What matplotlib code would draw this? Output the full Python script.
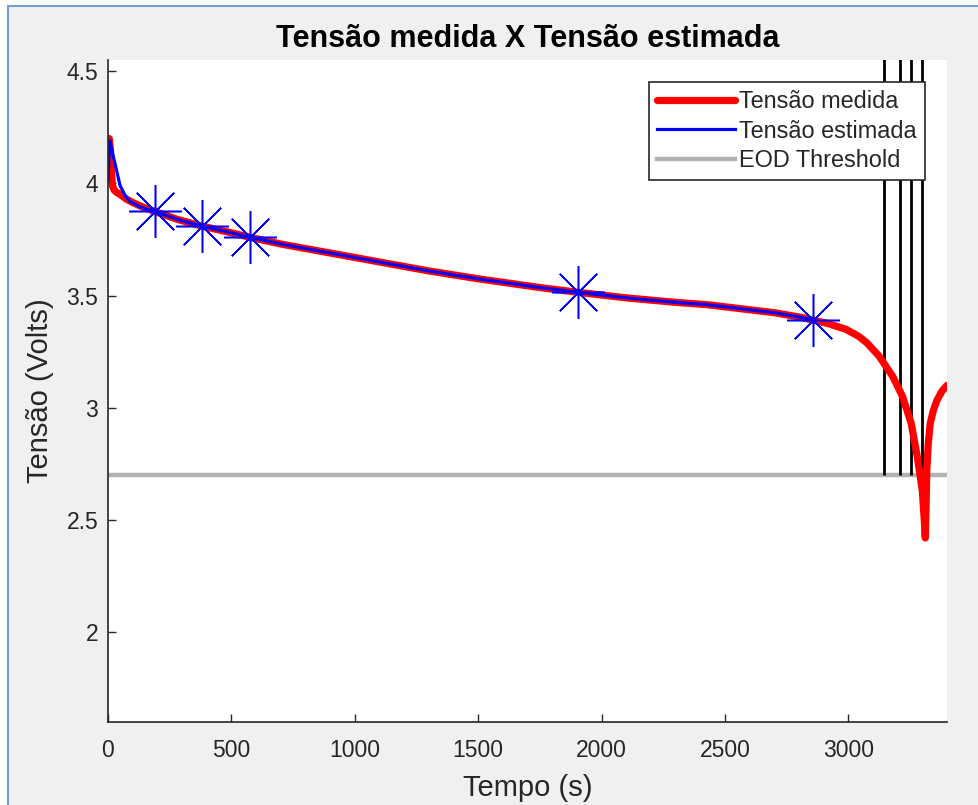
import matplotlib
matplotlib.use('Agg')
import matplotlib.pyplot as plt
from matplotlib.patches import Rectangle

# measured voltage (red)
t_medida = [0, 5, 10, 14, 18, 25, 35, 50, 75, 100, 140, 190, 280, 380, 480, 575,
            700, 850, 1000, 1150, 1300, 1500, 1750, 1903, 2100, 2300, 2425, 2600,
            2700, 2800, 2860, 2920, 2990, 3040, 3075, 3125, 3180, 3220, 3255, 3280,
            3300, 3308, 3312, 3315, 3318, 3324, 3332, 3345, 3360, 3380, 3400]
v_medida = [4.18, 4.20, 4.15, 4.05, 3.99, 3.97, 3.96, 3.95, 3.93, 3.915, 3.895, 3.875,
            3.84, 3.81, 3.785, 3.76, 3.73, 3.70, 3.67, 3.64, 3.61, 3.575, 3.536, 3.515,
            3.49, 3.47, 3.46, 3.437, 3.424, 3.405, 3.39, 3.375, 3.35, 3.32, 3.29, 3.23,
            3.14, 3.05, 2.93, 2.78, 2.63, 2.50, 2.42, 2.55, 2.72, 2.84, 2.93, 2.99,
            3.035, 3.075, 3.10]

# estimated voltage (blue)
t_estimada = [0, 4, 8, 15, 28, 49, 70, 89, 130, 190, 280, 380, 480, 575, 700, 850,
              1000, 1150, 1300, 1500, 1750, 1903, 2100, 2300, 2425, 2600, 2700, 2800, 2860]
v_estimada = [4.01, 4.12, 4.19, 4.15, 4.09, 3.99, 3.945, 3.92, 3.895, 3.875, 3.84, 3.81,
              3.785, 3.76, 3.73, 3.70, 3.67, 3.64, 3.61, 3.575, 3.536, 3.515, 3.49, 3.47,
              3.46, 3.437, 3.424, 3.405, 3.39]

# asterisk markers
t_ast = [190, 380, 575, 1903, 2858]
v_ast = [3.875, 3.81, 3.76, 3.515, 3.39]

# EOD crossings (black vertical lines)
t_eod = [3146, 3211, 3255, 3300]
eod_threshold = 2.7

fg = '#262626'
plt.rcParams['font.family'] = ['Liberation Sans', 'DejaVu Sans']

fig = plt.figure(figsize=(9.79, 8.05), dpi=100, facecolor='white')
fig.patches.append(Rectangle((8 / 979, -0.01), 1.0, 1 - 6 / 805 + 0.01,
                             transform=fig.transFigure, facecolor='#f0f0f0',
                             edgecolor='#6f9fd8', linewidth=1.5, zorder=-10))

ax = fig.add_axes([108 / 979, 1 - 722 / 805, (947 - 108) / 979, (722 - 60) / 805])
ax.set_facecolor('white')

h_eod, = ax.plot([0, 3400], [eod_threshold, eod_threshold], color='#b3b3b3', lw=3.2)
ax.vlines(t_eod, eod_threshold, 4.8, color='black', lw=2)
h_med, = ax.plot(t_medida, v_medida, color='red', lw=5.2, solid_capstyle='round')
h_est, = ax.plot(t_estimada, v_estimada, color='blue', lw=2.3)
ax.plot(t_ast, v_ast, linestyle='none', marker=(8, 2, 0), markersize=38,
        markeredgecolor='blue', markeredgewidth=1.1)

ax.set_xlim(0, 3400)
ax.set_ylim(1.6, 4.55)
ax.set_xticks([0, 500, 1000, 1500, 2000, 2500, 3000])
ax.set_yticks([2, 2.5, 3, 3.5, 4, 4.5])
ax.set_yticklabels(['2', '2.5', '3', '3.5', '4', '4.5'])

for s in ['top', 'right']:
    ax.spines[s].set_visible(False)
for s in ['left', 'bottom']:
    ax.spines[s].set_color(fg)
    ax.spines[s].set_linewidth(1.2)
ax.tick_params(direction='in', length=6, width=1, colors=fg, labelsize=16.5)
ax.tick_params(axis='y', pad=7)
ax.tick_params(axis='x', pad=12)

ax.set_title('Tensão medida X Tensão estimada', fontsize=22, fontweight='bold', pad=9)
ax.set_xlabel('Tempo (s)', fontsize=21, color=fg, labelpad=9)
ax.set_ylabel('Tensão (Volts)', fontsize=21, color=fg, labelpad=9)

leg = ax.legend([h_med, h_est, h_eod], ['Tensão medida', 'Tensão estimada', 'EOD Threshold'],
                loc='upper right', bbox_to_anchor=(0.974, 0.967), borderaxespad=0,
                fontsize=16.9, fancybox=False, framealpha=1, edgecolor=fg,
                handlelength=3.3, handletextpad=0.2, borderpad=0.35, labelspacing=0.28)
leg.get_frame().set_linewidth(1.2)
for txt in leg.get_texts():
    txt.set_color(fg)

fig.savefig('out.png', dpi=100, facecolor=fig.get_facecolor())
